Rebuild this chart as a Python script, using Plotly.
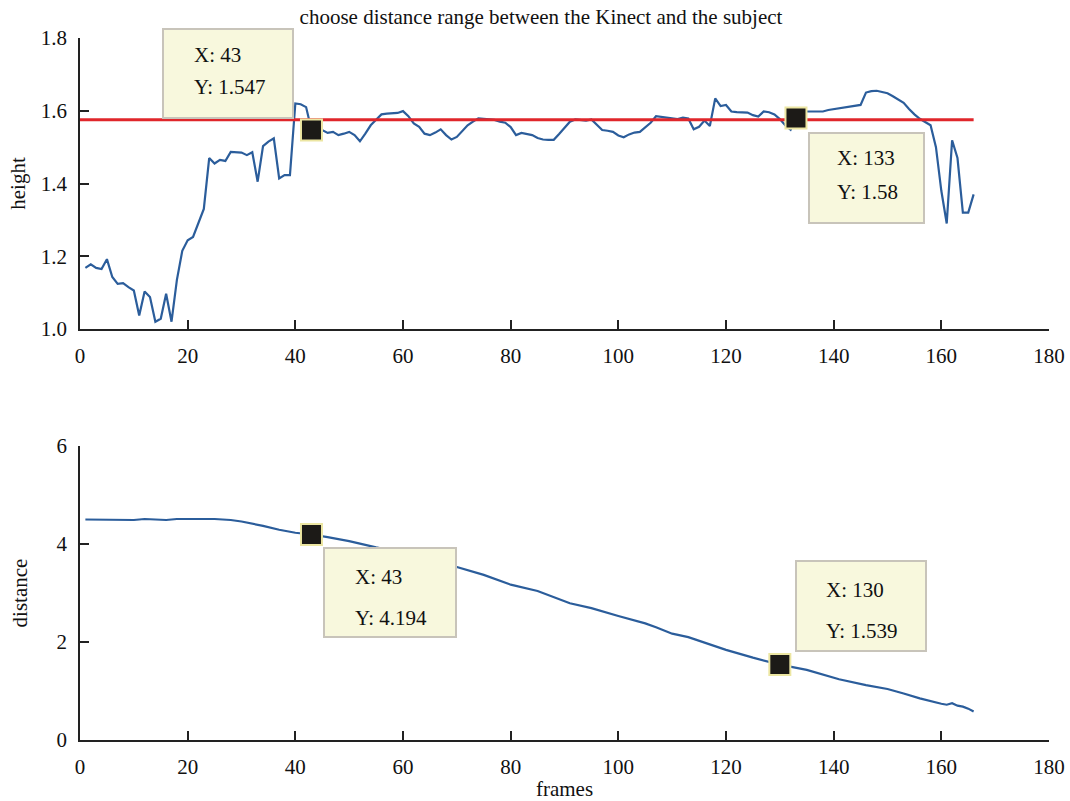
import plotly.graph_objects as go

# ---------------- data ----------------
frames_h = list(range(1, 167))
height = [
    1.168, 1.178, 1.168, 1.165, 1.192, 1.143, 1.124, 1.126, 1.115, 1.106,
    1.037, 1.103, 1.088, 1.020, 1.028, 1.097, 1.020, 1.135, 1.215, 1.244,
    1.253, 1.290, 1.330, 1.470, 1.455, 1.465, 1.462, 1.487, 1.487, 1.485,
    1.478, 1.486, 1.405, 1.503, 1.515, 1.524, 1.414, 1.423, 1.423, 1.620,
    1.618, 1.610, 1.547, 1.545, 1.547, 1.539, 1.542, 1.533, 1.537, 1.542,
    1.533, 1.516, 1.537, 1.560, 1.575, 1.590, 1.592, 1.592, 1.594, 1.599,
    1.585, 1.565, 1.556, 1.537, 1.533, 1.540, 1.549, 1.533, 1.521, 1.528,
    1.545, 1.560, 1.570, 1.579, 1.578, 1.577, 1.575, 1.570, 1.567, 1.555,
    1.533, 1.539, 1.536, 1.533, 1.525, 1.521, 1.520, 1.520, 1.536, 1.553,
    1.570, 1.576, 1.575, 1.573, 1.576, 1.560, 1.547, 1.545, 1.542, 1.532,
    1.527, 1.535, 1.540, 1.542, 1.555, 1.567, 1.585, 1.583, 1.581, 1.578,
    1.577, 1.581, 1.579, 1.549, 1.556, 1.573, 1.558, 1.634, 1.613, 1.616,
    1.598, 1.596, 1.595, 1.595, 1.588, 1.584, 1.598, 1.596, 1.590, 1.577,
    1.560, 1.548, 1.580, 1.595, 1.598, 1.598, 1.598, 1.598, 1.602, 1.604,
    1.607, 1.609, 1.611, 1.612, 1.616, 1.650, 1.654, 1.655, 1.652, 1.648,
    1.640, 1.631, 1.622, 1.605, 1.590, 1.578, 1.570, 1.560, 1.500, 1.380,
    1.290, 1.519, 1.470, 1.320, 1.320, 1.370,
]

threshold_x = [0, 166]
threshold_y = [1.575, 1.575]

frames_d = [1, 5, 10, 12, 16, 18, 25, 28, 30, 34, 37, 40, 43, 46, 50, 55,
            60, 65, 70, 75, 80, 85, 91, 95, 100, 105, 107, 110, 113, 117,
            120, 125, 128, 130, 135, 141, 146, 150, 153, 156, 160, 161, 162,
            163, 164, 165, 166]
distance = [4.50, 4.50, 4.49, 4.51, 4.49, 4.51, 4.51, 4.49, 4.46, 4.37,
            4.29, 4.23, 4.194, 4.14, 4.06, 3.93, 3.82, 3.70, 3.53, 3.37,
            3.17, 3.04, 2.79, 2.69, 2.53, 2.38, 2.30, 2.17, 2.10, 1.95,
            1.84, 1.68, 1.60, 1.539, 1.43, 1.24, 1.12, 1.04, 0.95, 0.85,
            0.74, 0.72, 0.75, 0.70, 0.68, 0.64, 0.58]

height_tips_x = [43, 133]
height_tips_y = [1.547, 1.58]
dist_tips_x = [43, 130]
dist_tips_y = [4.194, 1.539]

title = "choose distance range between the Kinect and the subject"

# ---------------- layout helpers ----------------
FIG_W, FIG_H = 1070, 801
L, R, T, B = 80, 21, 38, 61
PW, PH = FIG_W - L - R, FIG_H - T - B


def px2x(px):
    return (px - L) / PW


def py2y(py):
    return (FIG_H - B - py) / PH


FONT = "Liberation Serif, Times New Roman, serif"
BLUE = "#2b5d9b"
RED = "#e0262b"
AX = "#222222"

fig = go.Figure()

fig.add_trace(go.Scatter(x=frames_h, y=height, mode="lines",
                         line=dict(color=BLUE, width=2.2), xaxis="x", yaxis="y",
                         showlegend=False, hoverinfo="skip"))
fig.add_trace(go.Scatter(x=threshold_x, y=threshold_y, mode="lines",
                         line=dict(color=RED, width=3), xaxis="x", yaxis="y",
                         showlegend=False, hoverinfo="skip"))
fig.add_trace(go.Scatter(x=height_tips_x, y=height_tips_y, mode="markers",
                         marker=dict(symbol="square", size=21, color="#1c1a17",
                                     line=dict(color="#ece6a2", width=2)),
                         xaxis="x", yaxis="y", showlegend=False, hoverinfo="skip"))
fig.add_trace(go.Scatter(x=frames_d, y=distance, mode="lines",
                         line=dict(color=BLUE, width=2.2), xaxis="x2", yaxis="y2",
                         showlegend=False, hoverinfo="skip"))
fig.add_trace(go.Scatter(x=dist_tips_x, y=dist_tips_y, mode="markers",
                         marker=dict(symbol="square", size=21, color="#1c1a17",
                                     line=dict(color="#ece6a2", width=2)),
                         xaxis="x2", yaxis="y2", showlegend=False, hoverinfo="skip"))

axis_common = dict(showline=True, linecolor=AX, linewidth=1.5, ticks="inside",
                   ticklen=9, tickcolor=AX, tickwidth=1.5, showgrid=False,
                   zeroline=False, automargin=False,
                   tickfont=dict(family=FONT, size=21, color="#111"),
                   ticklabelstandoff=7)

xticks = list(range(0, 181, 20))

fig.update_layout(
    width=FIG_W, height=FIG_H,
    margin=dict(l=L, r=R, t=T, b=B, autoexpand=False),
    paper_bgcolor="white", plot_bgcolor="white",
    font=dict(family=FONT, color="#111"),
    title=dict(text=title, x=541 / FIG_W, xref="container", xanchor="center",
               y=1 - 17 / FIG_H, yref="container", yanchor="middle",
               font=dict(family=FONT, size=21, color="#111"), automargin=False),
    xaxis=dict(domain=[0, 1], range=[0, 180], anchor="y", tickvals=xticks,
               **axis_common),
    yaxis=dict(domain=[py2y(329), 1], range=[1.0, 1.8], anchor="x",
               tickvals=[1.0, 1.2, 1.4, 1.6, 1.8], tickformat=".1f",
               title=dict(text="height", standoff=9,
                          font=dict(family=FONT, size=21, color="#111")),
               **axis_common),
    xaxis2=dict(domain=[0, 1], range=[0, 180], anchor="y2", tickvals=xticks,
                title=dict(text="frames", standoff=9,
                           font=dict(family=FONT, size=21, color="#111")),
                **axis_common),
    yaxis2=dict(domain=[0, py2y(446)], range=[0, 6], anchor="x2",
                tickvals=[0, 2, 4, 6],
                title=dict(text="distance", standoff=23,
                           font=dict(family=FONT, size=21, color="#111")),
                **axis_common),
)

# data-tip boxes (pixel rectangles: x0, y0, x1, y1) and text anchors
tips = [
    ((163, 29, 293, 118), (192, 55, 87), height_tips_x[0], height_tips_y[0]),
    ((809, 133, 924, 223), (835, 158, 192), height_tips_x[1], height_tips_y[1]),
    ((324, 548, 456, 637), (353, 577, 618), dist_tips_x[0], dist_tips_y[0]),
    ((796, 561, 926, 651), (824, 590, 631), dist_tips_x[1], dist_tips_y[1]),
]

for (x0, y0, x1, y1), (tx, ty1, ty2), vx, vy in tips:
    fig.add_shape(type="rect", xref="paper", yref="paper",
                  x0=px2x(x0), x1=px2x(x1), y0=py2y(y1), y1=py2y(y0),
                  fillcolor="#f8f8dd", line=dict(color="#c8c4ba", width=2),
                  layer="above")
    fig.add_annotation(xref="paper", yref="paper", x=px2x(tx), y=py2y(ty1),
                       xanchor="left", yanchor="middle", showarrow=False,
                       text=f"X: {vx}", font=dict(family=FONT, size=21, color="#111"))
    fig.add_annotation(xref="paper", yref="paper", x=px2x(tx), y=py2y(ty2),
                       xanchor="left", yanchor="middle", showarrow=False,
                       text=f"Y: {vy}", font=dict(family=FONT, size=21, color="#111"))

fig.write_html("out.html")
